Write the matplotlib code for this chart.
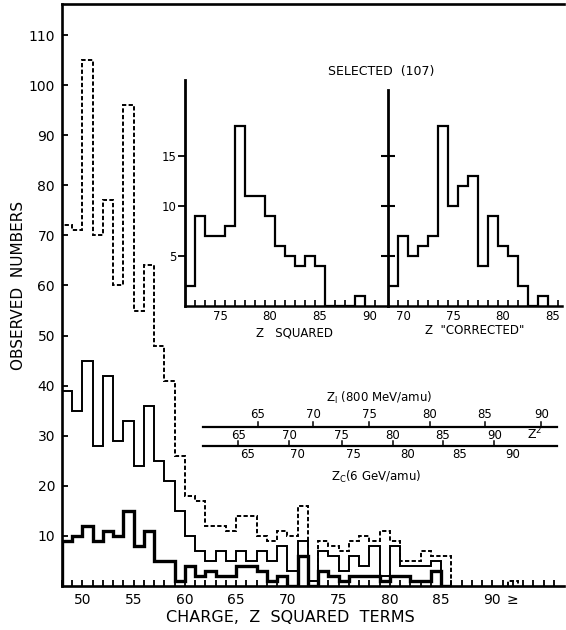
import numpy as np
import matplotlib.pyplot as plt
from matplotlib.ticker import FixedLocator

# main histogram: one bin per Z^2 unit, bins 48..85
z_edges = np.arange(48, 87)
total_counts = [72, 71, 105, 70, 77, 60, 96, 55, 64, 48, 41, 26, 18, 17, 12,
                12, 11, 14, 14, 10, 9, 11, 10, 16, 1,
                9, 8, 7, 9, 10, 9, 11, 9, 5, 5, 7, 6, 6]
mid_counts = [39, 35, 45, 28, 42, 29, 33, 24, 36, 25, 21, 15, 10, 7, 5,
              7, 5, 7, 5, 7, 5, 8, 3, 9, 1,
              7, 6, 3, 6, 4, 8, 2, 8, 4, 4, 4, 5, 0]
low_counts = [9, 10, 12, 9, 11, 10, 15, 8, 11, 5, 5, 1, 4, 2, 3,
              2, 2, 4, 4, 3, 1, 2, 0, 6, 0,
              3, 2, 1, 2, 2, 2, 1, 2, 2, 1, 1, 3, 0]
overflow_count = [1]  # the ">=" bin

# inset histograms, "SELECTED (107)"
sq_z = np.arange(72, 90)
sq_counts = [2, 9, 7, 7, 8, 18, 11, 11, 9, 6, 5, 4, 5, 4, 0, 0, 0, 1]
cor_z = np.arange(69, 85)
cor_counts = [2, 7, 5, 6, 7, 18, 10, 12, 13, 4, 9, 6, 5, 2, 0, 1]

# conversion scales, Z^2 value where each tick sits
scale_ticks = [65, 70, 75, 80, 85, 90]
zi_at = [67.1, 72.5, 78.0, 83.9, 89.3, 94.8]
z2_at = [65.2, 70.2, 75.3, 80.3, 85.2, 90.2]
zc_at = [66.1, 71.0, 76.4, 81.7, 86.8, 92.0]

dash = (0, (2.2, 1.2))

fig = plt.figure(figsize=(5.66, 6.3), dpi=100)
ax = fig.add_axes([62/566, 44/630, 502/566, 582/630])
ax.set_xlim(48, 97)
ax.set_ylim(0, 116.2)

ax.stairs(total_counts, z_edges, baseline=0, color='k', lw=1.4, ls=dash)
ax.stairs(mid_counts, z_edges, baseline=0, color='k', lw=1.4)
ax.stairs(low_counts, z_edges, baseline=0, color='k', lw=2.4)
ax.stairs(overflow_count, [91.5, 92.5], baseline=0, color='k', lw=1.4, ls=dash)

ax.spines['right'].set_visible(False)
for s in ['left', 'bottom', 'top']:
    ax.spines[s].set_linewidth(1.9)

ax.set_yticks(range(10, 111, 10))
ax.set_xticks([50, 55, 60, 65, 70, 75, 80, 85, 90, 92])
ax.set_xticklabels(['50', '55', '60', '65', '70', '75', '80', '85', '90', '≥'])
ax.xaxis.set_minor_locator(FixedLocator(np.arange(48, 97)))
ax.tick_params(axis='y', direction='in', length=4, width=1.3, labelsize=10, pad=5)
ax.tick_params(axis='x', which='both', direction='in', length=4, width=1.3,
               labelsize=10, pad=5)

fig.text(19/566, 1 - 285/630, 'OBSERVED  NUMBERS', rotation=90,
         ha='center', va='center', fontsize=11)
fig.text(290/566, 1 - 617/630, 'CHARGE,  Z  SQUARED  TERMS',
         ha='center', va='center', fontsize=11.5)

# scale bars
ax.plot([61.8, 96.3], [31.7, 31.7], color='k', lw=1.6)
ax.plot([61.8, 96.3], [27.9, 27.9], color='k', lw=1.6)
for t, a, b, c in zip(scale_ticks, zi_at, z2_at, zc_at):
    ax.plot([a, a], [31.7, 32.8], color='k', lw=1.1)
    ax.text(a, 34.3, str(t), ha='center', va='center', fontsize=8.5)
    ax.plot([b, b], [27.9, 29.0], color='k', lw=1.1)
    ax.text(b, 30.1, str(t), ha='center', va='center', fontsize=8.5)
    ax.text(c, 26.2, str(t), ha='center', va='center', fontsize=8.5)
ax.text(94.1, 30.3, r'Z$^2$', ha='center', va='center', fontsize=9)
ax.text(79.0, 37.6, r'Z$_\mathrm{I}$ (800 MeV/amu)', ha='center', va='center', fontsize=8.5)
ax.text(78.7, 21.8, r'Z$_\mathrm{C}$(6 GeV/amu)', ha='center', va='center', fontsize=8.5)

# insets
ax1 = fig.add_axes([185/566, 324/630, 203/566, 226/630])
ax1.set_xlim(71.5, 91.8)
ax1.set_ylim(0, 22.6)
ax1.stairs(sq_counts, np.append(sq_z - 0.5, sq_z[-1] + 0.5), baseline=0, color='k', lw=1.6)
ax1.set_xticks([75, 80, 85, 90])
ax1.xaxis.set_minor_locator(FixedLocator(np.arange(72.5, 91, 1)))
ax1.set_yticks([5, 10, 15])
ax1.tick_params(axis='x', which='major', length=0, labelsize=8.5, pad=3)
ax1.tick_params(axis='x', which='minor', direction='in', length=4, width=1.2)
ax1.tick_params(axis='y', direction='out', length=5, width=1.3, labelsize=8.5, pad=1)

ax2 = fig.add_axes([388/566, 324/630, 174/566, 216/630])
ax2.set_xlim(68.5, 85.9)
ax2.set_ylim(0, 21.6)
ax2.stairs(cor_counts, np.append(cor_z - 0.5, cor_z[-1] + 0.5), baseline=0, color='k', lw=1.6)
ax2.set_xticks([70, 75, 80, 85])
ax2.xaxis.set_minor_locator(FixedLocator(np.arange(69.5, 86, 1)))
ax2.set_yticks([5, 10, 15])
ax2.set_yticklabels([])
ax2.tick_params(axis='x', which='major', length=0, labelsize=8.5, pad=3)
ax2.tick_params(axis='x', which='minor', direction='in', length=4, width=1.2)
ax2.tick_params(axis='y', direction='inout', length=10, width=1.5)

for a in (ax1, ax2):
    a.patch.set_visible(False)
    a.spines['top'].set_visible(False)
    a.spines['right'].set_visible(False)
    a.spines['left'].set_linewidth(2)
    a.spines['bottom'].set_linewidth(1.8)

fig.text(295/566, 1 - 333/630, 'Z   SQUARED', ha='center', va='center', fontsize=8.5)
fig.text(475/566, 1 - 331/630, 'Z  "CORRECTED"', ha='center', va='center', fontsize=8.5)
fig.text(381/566, 1 - 72/630, 'SELECTED  (107)', ha='center', va='center', fontsize=9)

fig.savefig('out.png', dpi=100)
